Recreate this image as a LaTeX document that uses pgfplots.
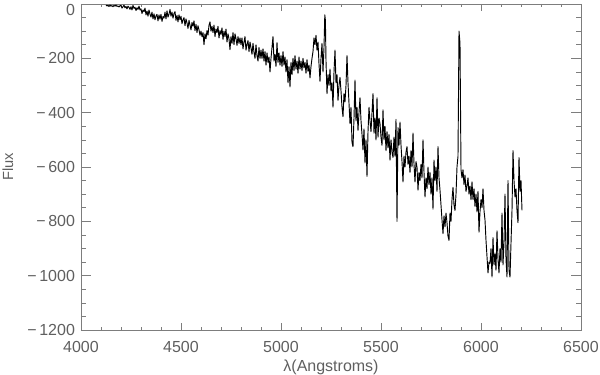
\documentclass[border=0pt]{standalone}
\usepackage{pgfplots}
\pgfplotsset{compat=1.18}
\usepackage{fontspec}
\setmainfont{Liberation Sans}
\definecolor{axgray}{RGB}{125,125,125}
\definecolor{txtgray}{RGB}{95,95,95}
\begin{document}
\begin{tikzpicture}
\pgfplotsset{
  base/.style={
    scale only axis, width=375pt, height=244.5pt,
    xmin=4000, xmax=6500, ymin=-1200, ymax=0,
    axis line style={axgray, line width=0.6pt},
    every tick/.style={axgray, line width=0.5pt},
    tick align=inside,
    ticklabel style={font=\fontsize{12}{14}\selectfont, text=txtgray},
  }
}
% axis carrying the x ticks
\begin{axis}[base,
  xtick={4000,4500,...,6500}, minor x tick num=4,
  ytick=\empty,
  major tick length=4.9pt, minor tick length=2.5pt,
  xticklabel={\pgfmathtruncatemacro\tv{\tick}\tv},
  xticklabel style={yshift=-5pt},
  xlabel={λ(Angstroms)},
  xlabel style={at={(axis description cs:0.5,-0.1135)}, anchor=center, font=\fontsize{12}{14}\selectfont, text=txtgray},
]
\end{axis}
% axis carrying the y ticks and data
\begin{axis}[base,
  xtick=\empty,
  ytick={-1200,-1000,...,0}, minor y tick num=3,
  major tick length=7.5pt, minor tick length=3.75pt,
  yticklabel={\pgfmathtruncatemacro\tv{abs(\tick)}\pgfmathtruncatemacro\sg{\tick<0}\ifnum\sg=1 −\,\tv\else\raisebox{-8.3pt}[0pt][0pt]{\tv}\fi},
  yticklabel style={xshift=-1pt},
  ylabel={Flux},
  ylabel style={at={(axis description cs:-0.146,0.5)}, anchor=center, font=\fontsize{11}{13}\selectfont, text=txtgray},
]
\addplot[black, line width=0.7pt, line join=round] coordinates {
(4125,-4) (4130,-7) (4135,-5) (4140,-9) (4145,-4) (4150,-8) (4155,-6) (4160,-10) (4165,-5) (4170,-8) (4175,-4) (4180,-9) (4185,-7) (4190,-11) (4195,-6)
(4200,-6) (4205,-15) (4210,-10) (4215,-4) (4220,-14) (4225,-9) (4230,-18) (4235,-8) (4240,-12) (4245,-20) (4250,-10) (4255,-22) (4260,-5) (4265,-16) (4270,-12) (4275,-24) (4280,-14) (4285,-20) (4290,-8) (4295,-22)
(4300,-18) (4305,-35) (4310,-22) (4315,-28) (4320,-15) (4325,-40) (4330,-26) (4335,-45) (4340,-22) (4345,-38) (4350,-48) (4355,-30) (4360,-55) (4365,-36) (4370,-58) (4375,-44) (4380,-38) (4385,-62) (4390,-40) (4395,-56)
(4400,-38) (4405,-64) (4410,-46) (4415,-52) (4420,-30) (4425,-55) (4430,-25) (4435,-48) (4440,-38) (4445,-20) (4450,-45) (4455,-30) (4460,-52) (4465,-35) (4470,-28) (4475,-60) (4480,-42) (4485,-66) (4490,-40) (4495,-58)
(4500,-45) (4505,-72) (4510,-58) (4515,-50) (4520,-80) (4525,-55) (4530,-70) (4535,-90) (4540,-60) (4545,-78) (4550,-95) (4555,-68) (4560,-82) (4565,-62) (4570,-98) (4575,-75) (4580,-105) (4585,-80) (4590,-95) (4595,-115)
(4600,-100) (4605,-120) (4610,-105) (4615,-150) (4620,-110) (4625,-128) (4630,-98) (4635,-115) (4640,-78) (4645,-66) (4650,-100) (4655,-82) (4660,-105) (4665,-78) (4670,-120) (4675,-92) (4680,-105) (4685,-82) (4690,-125) (4695,-98)
(4700,-112) (4705,-88) (4710,-130) (4715,-100) (4720,-120) (4725,-92) (4730,-140) (4735,-110) (4740,-128) (4745,-168) (4750,-120) (4755,-145) (4760,-105) (4765,-150) (4770,-110) (4775,-128) (4780,-152) (4785,-120) (4790,-145) (4795,-125)
(4800,-150) (4805,-125) (4810,-165) (4815,-140) (4820,-120) (4825,-170) (4830,-148) (4835,-135) (4840,-175) (4845,-140) (4850,-162) (4855,-185) (4860,-145) (4865,-178) (4870,-200) (4875,-150) (4880,-190) (4885,-210) (4890,-160) (4895,-200)
(4900,-170) (4905,-200) (4910,-165) (4915,-210) (4920,-175) (4925,-225) (4930,-180) (4935,-215) (4940,-195) (4945,-250) (4950,-200) (4955,-160) (4960,-120) (4965,-210) (4970,-185) (4975,-230) (4980,-142) (4985,-215) (4990,-180) (4995,-225)
(5000,-190) (5005,-230) (5010,-175) (5015,-225) (5020,-195) (5025,-250) (5030,-205) (5035,-290) (5040,-230) (5045,-305) (5050,-215) (5055,-260) (5060,-200) (5065,-245) (5070,-190) (5075,-240) (5080,-210) (5085,-255) (5090,-195) (5095,-240)
(5100,-210) (5105,-245) (5110,-200) (5115,-235) (5120,-215) (5125,-255) (5130,-205) (5135,-248) (5140,-225) (5145,-272) (5150,-230) (5155,-200) (5160,-175) (5165,-125) (5170,-150) (5175,-115) (5180,-170) (5185,-140) (5190,-220) (5195,-285)
(5200,-200) (5205,-145) (5210,-250) (5215,-160) (5219,-40) (5222,-60) (5225,-210) (5230,-330) (5235,-260) (5240,-300) (5245,-240) (5250,-320) (5255,-290) (5260,-380) (5265,-250) (5270,-170) (5275,-290) (5280,-260) (5285,-355) (5290,-300) (5295,-270)
(5300,-320) (5305,-380) (5310,-415) (5315,-330) (5320,-360) (5325,-300) (5330,-190) (5335,-290) (5340,-365) (5345,-440) (5350,-380) (5355,-510) (5360,-525) (5365,-420) (5370,-280) (5375,-430) (5380,-380) (5385,-465) (5390,-400) (5395,-345)
(5400,-430) (5405,-480) (5410,-537) (5415,-460) (5420,-585) (5425,-500) (5430,-635) (5435,-470) (5440,-380) (5445,-430) (5450,-470) (5455,-400) (5460,-330) (5465,-475) (5470,-420) (5475,-500) (5480,-345) (5485,-490) (5490,-420) (5495,-440)
(5500,-490) (5505,-520) (5510,-390) (5515,-500) (5520,-450) (5525,-540) (5530,-470) (5535,-530) (5540,-480) (5545,-575) (5550,-500) (5555,-545) (5560,-565) (5565,-490) (5570,-560) (5575,-425) (5580,-800) (5585,-455) (5590,-520) (5595,-435)
(5600,-520) (5605,-580) (5610,-655) (5615,-560) (5620,-600) (5625,-545) (5630,-525) (5635,-590) (5640,-560) (5645,-620) (5650,-540) (5655,-600) (5660,-475) (5665,-590) (5670,-655) (5675,-580) (5680,-600) (5685,-685) (5690,-620) (5695,-650)
(5700,-590) (5705,-640) (5710,-500) (5715,-620) (5720,-710) (5725,-640) (5730,-680) (5735,-600) (5740,-665) (5745,-620) (5750,-700) (5755,-640) (5760,-755) (5765,-575) (5770,-650) (5775,-600) (5780,-690) (5785,-525) (5790,-640) (5795,-685)
(5800,-740) (5805,-795) (5810,-845) (5815,-780) (5820,-820) (5825,-770) (5830,-805) (5835,-855) (5840,-870) (5845,-770) (5850,-800) (5855,-720) (5860,-675) (5865,-740) (5870,-760) (5875,-700) (5880,-600) (5885,-560) (5890,-100) (5895,-145)
(5900,-610) (5905,-640) (5910,-610) (5915,-665) (5920,-630) (5925,-690) (5930,-670) (5935,-640) (5940,-700) (5945,-670) (5950,-720) (5955,-655) (5960,-720) (5965,-680) (5970,-745) (5975,-700) (5980,-765) (5985,-690) (5990,-840) (5995,-765)
(6000,-720) (6005,-750) (6010,-680) (6015,-760) (6020,-795) (6025,-870) (6030,-930) (6035,-990) (6040,-950) (6045,-955) (6050,-900) (6055,-1005) (6060,-860) (6065,-960) (6070,-920) (6075,-980) (6080,-835) (6085,-940) (6090,-990) (6095,-900)
(6100,-950) (6105,-770) (6110,-960) (6115,-880) (6120,-700) (6125,-940) (6130,-1005) (6135,-650) (6140,-980) (6145,-1005) (6150,-880) (6155,-760) (6160,-540) (6165,-650) (6170,-710) (6175,-680) (6180,-760) (6185,-805) (6190,-565) (6195,-690) (6200,-650) (6205,-760)
};
\end{axis}
\pgfresetboundingbox
\path (-60.75pt,-33.75pt) rectangle (389.25pt,247.5pt);
\end{tikzpicture}
\end{document}
